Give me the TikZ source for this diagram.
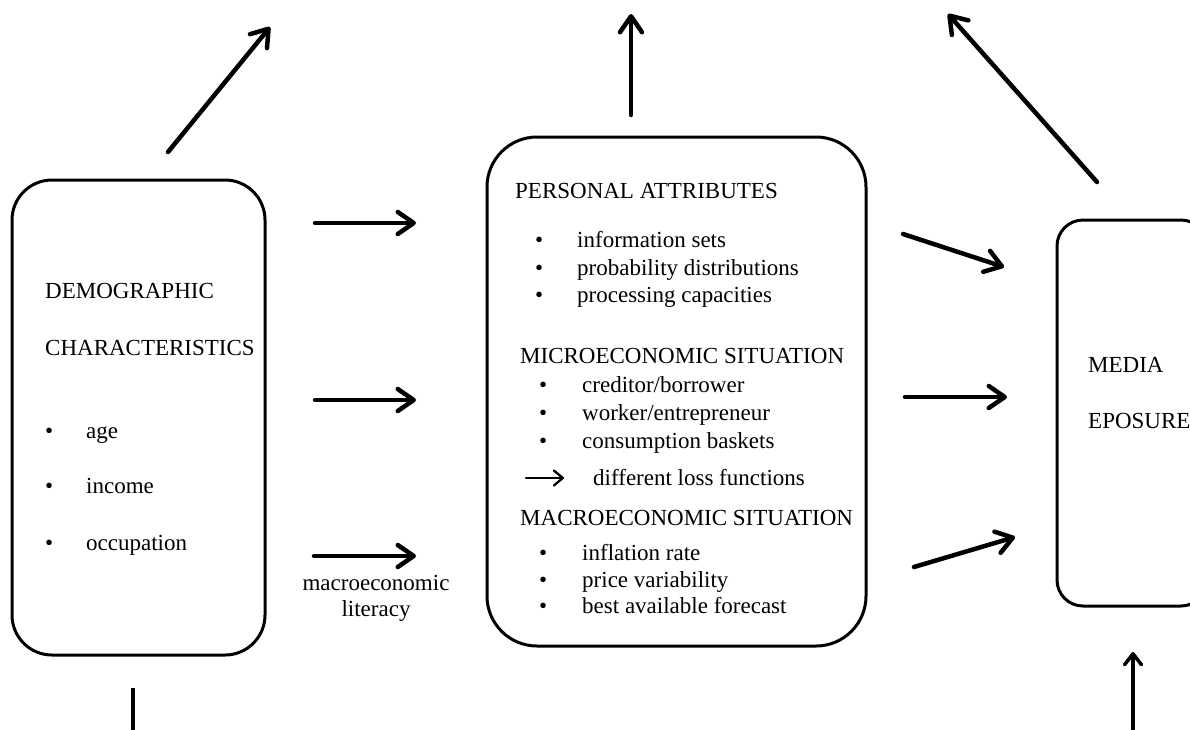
\documentclass[tikz,border=0pt]{standalone}
\usepackage{fontspec}
\setmainfont{Liberation Serif}
\usetikzlibrary{arrows.meta}
\begin{document}
\begin{tikzpicture}[x=1pt,y=-1pt,
  box/.style={draw, line width=3pt, minimum width=#1, inner sep=0pt},
  txt/.style={anchor=base west, inner sep=0pt, font=\fontsize{23}{27}\selectfont},
  ctxt/.style={anchor=base, inner sep=0pt, font=\fontsize{23}{27}\selectfont},
  bigarrow/.style={line width=4.5pt, line cap=round,
    -{Straight Barb[length=16pt,width=22pt,line cap=round,line join=round]}},
  smallarrow/.style={line width=2.3pt, line cap=round,
    -{Straight Barb[length=9pt,width=15pt,line cap=round,line join=round]}},
  botarrow/.style={line width=3.5pt, line join=miter,
    -{Straight Barb[length=11pt,width=17pt,line cap=round,line join=round]}},
]
\useasboundingbox (0,0) rectangle (1190,729);
\clip (0,0) rectangle (1190,729);

% boxes
\node[box=253pt, minimum height=475pt, rounded corners=40pt] (demo) at (138.5,417.5) {};
\node[box=379pt, minimum height=509pt, rounded corners=50pt] (pers) at (676.5,391.5) {};
\node[box=150pt, minimum height=386pt, rounded corners=26pt] (media) at (1132,413) {};

% left box text
\node[txt] (d1) at (45,298) {DEMOGRAPHIC};
\node[txt] (d2) at (45,355) {CHARACTERISTICS};
\node[txt] (db1) at (45,438) {•};
\node[txt] (di1) at (86,438) {age};
\node[txt] (db2) at (45,493) {•};
\node[txt] (di2) at (86,493) {income};
\node[txt] (db3) at (45,550) {•};
\node[txt] (di3) at (86,550) {occupation};

% middle box text
\node[txt] (p0) at (515,198) {PERSONAL ATTRIBUTES};
\node[txt] (pb1) at (535,247) {•};
\node[txt] (pi1) at (577,247) {information sets};
\node[txt] (pb2) at (535,275) {•};
\node[txt] (pi2) at (577,275) {probability distributions};
\node[txt] (pb3) at (535,302) {•};
\node[txt] (pi3) at (577,302) {processing capacities};

\node[txt] (m0) at (520,363) {MICROECONOMIC SITUATION};
\node[txt] (mb1) at (539,392) {•};
\node[txt] (mi1) at (582,392) {creditor/borrower};
\node[txt] (mb2) at (539,420) {•};
\node[txt] (mi2) at (582,420) {worker/entrepreneur};
\node[txt] (mb3) at (539,448) {•};
\node[txt] (mi3) at (582,448) {consumption baskets};
\coordinate (la1) at (526,478);
\coordinate (la2) at (564,478);
\draw[smallarrow] (la1) -- (la2);
\node[txt] (loss) at (593,485) {different loss functions};

\node[txt] (M0) at (520,525) {MACROECONOMIC SITUATION};
\node[txt] (Mb1) at (539,560) {•};
\node[txt] (Mi1) at (582,560) {inflation rate};
\node[txt] (Mb2) at (539,587) {•};
\node[txt] (Mi2) at (582,587) {price variability};
\node[txt] (Mb3) at (539,613) {•};
\node[txt] (Mi3) at (582,613) {best available forecast};

% right box text
\node[txt] (me1) at (1088,372) {MEDIA};
\node[txt] (me2) at (1088,428) {EPOSURE};

% label
\node[ctxt] (lit1) at (376,590) {macroeconomic};
\node[ctxt] (lit2) at (376,616) {literacy};

% arrow coordinates
\coordinate (t1s) at (168,152); \coordinate (t1e) at (270,27);
\coordinate (t2s) at (631,115); \coordinate (t2e) at (631,14);
\coordinate (t3s) at (1097,182); \coordinate (t3e) at (948,14);
\coordinate (l1s) at (315,223); \coordinate (l1e) at (416,223);
\coordinate (l2s) at (315,400); \coordinate (l2e) at (416,400);
\coordinate (l3s) at (314,556); \coordinate (l3e) at (416,556);
\coordinate (r1s) at (903,234); \coordinate (r1e) at (1004,267);
\coordinate (r2s) at (905,397); \coordinate (r2e) at (1007,397);
\coordinate (r3s) at (914,567); \coordinate (r3e) at (1015,537);
\coordinate (bl) at (133,688);
\coordinate (bl2) at (133,731.5);
\coordinate (br2) at (1133,731.5);
\coordinate (br) at (1133,652);

\draw[bigarrow] (t1s) -- (t1e);
\draw[bigarrow] (t2s) -- (t2e);
\draw[bigarrow] (t3s) -- (t3e);
\draw[bigarrow] (l1s) -- (l1e);
\draw[bigarrow] (l2s) -- (l2e);
\draw[bigarrow] (l3s) -- (l3e);
\draw[bigarrow] (r1s) -- (r1e);
\draw[bigarrow] (r2s) -- (r2e);
\draw[bigarrow] (r3s) -- (r3e);
\draw[botarrow] (bl) -- (bl2) -- (br2) -- (br);
\end{tikzpicture}
\end{document}
